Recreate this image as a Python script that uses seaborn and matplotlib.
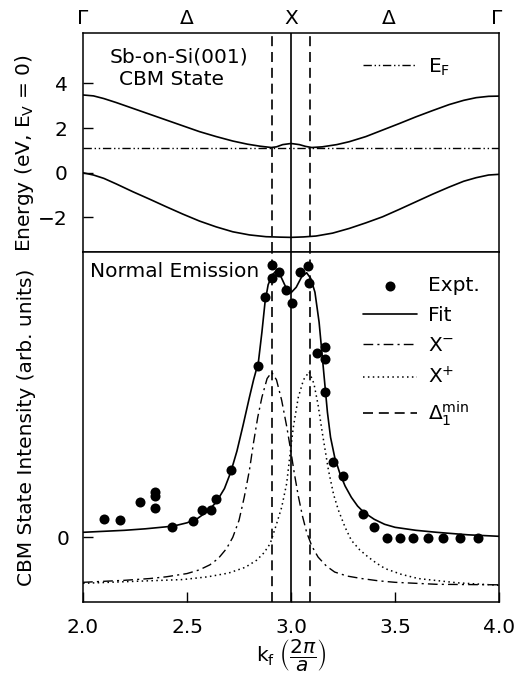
import matplotlib
matplotlib.use("Agg")
import matplotlib.pyplot as plt
import seaborn as sns

# ---------------- data ----------------
# top panel: band structure along Gamma - X - Gamma
band_k = [2.00, 2.05, 2.10, 2.16, 2.24, 2.32, 2.40, 2.48, 2.56, 2.64, 2.72, 2.79, 2.85,
          2.905, 2.93, 2.96, 3.00, 3.04, 3.07, 3.10, 3.15, 3.22, 3.28, 3.36, 3.44, 3.52,
          3.60, 3.68, 3.76, 3.83, 3.89, 3.95, 4.00]
cbm_band = [3.48, 3.44, 3.32, 3.14, 2.88, 2.62, 2.36, 2.10, 1.84, 1.62, 1.42, 1.28, 1.19,
            1.13, 1.16, 1.26, 1.31, 1.26, 1.18, 1.13, 1.16, 1.26, 1.39, 1.62, 1.91, 2.20,
            2.50, 2.78, 3.05, 3.24, 3.36, 3.42, 3.43]
vb_k = [2.00, 2.05, 2.10, 2.16, 2.24, 2.32, 2.40, 2.48, 2.56, 2.64, 2.72, 2.80, 2.88,
        2.95, 3.00, 3.06, 3.12, 3.20, 3.28, 3.36, 3.44, 3.52, 3.60, 3.68, 3.76, 3.83,
        3.89, 3.95, 4.00]
vb_band = [0.00, -0.10, -0.25, -0.50, -0.85, -1.18, -1.52, -1.85, -2.16, -2.42, -2.64,
           -2.78, -2.86, -2.88, -2.89, -2.87, -2.83, -2.70, -2.49, -2.24, -1.97, -1.64,
           -1.30, -0.96, -0.64, -0.38, -0.22, -0.10, -0.07]
ef_k = [2.0, 4.0]
ef_e = [1.12, 1.12]

# symmetry points (top axis labels)
sym_pos = [2.0, 2.5, 3.0, 3.47, 3.99]
sym_lab = ["Γ", "Δ", "X", "Δ", "Γ"]

# vertical markers
delta_min_k = [2.91, 3.09]
x_point_k = [3.0]

# bottom panel: experiment
expt_k = [2.10, 2.178, 2.272, 2.346, 2.346, 2.346, 2.430, 2.530, 2.572, 2.617, 2.638,
          2.710, 2.843, 2.875, 2.909, 2.909, 2.940, 2.976, 3.005, 3.043, 3.082, 3.087,
          3.125, 3.163, 3.163, 3.163, 3.203, 3.251, 3.348, 3.400, 3.462, 3.524, 3.588,
          3.658, 3.732, 3.810, 3.898]
expt_i = [0.072, 0.068, 0.142, 0.180, 0.166, 0.116, 0.041, 0.065, 0.111, 0.111, 0.154,
          0.268, 0.684, 0.960, 1.088, 1.036, 1.060, 0.988, 0.936, 1.060, 1.084, 1.016,
          0.736, 0.760, 0.712, 0.580, 0.302, 0.246, 0.092, 0.041, -0.002, -0.002, -0.002,
          -0.002, -0.002, -0.002, -0.002]

fit_k = [2.00, 2.10, 2.20, 2.30, 2.40, 2.45, 2.50, 2.55, 2.60, 2.64, 2.68, 2.71, 2.74,
         2.77, 2.80, 2.82, 2.843, 2.86, 2.875, 2.89, 2.91, 2.925, 2.95, 2.975, 3.00,
         3.025, 3.05, 3.075, 3.095, 3.115, 3.135, 3.155, 3.175, 3.19, 3.21, 3.235, 3.26,
         3.29, 3.32, 3.35, 3.40, 3.45, 3.50, 3.60, 3.70, 3.85, 4.00]
fit_i = [0.020, 0.024, 0.028, 0.034, 0.042, 0.048, 0.058, 0.075, 0.105, 0.140, 0.195,
         0.260, 0.345, 0.450, 0.560, 0.630, 0.700, 0.820, 0.940, 1.010, 1.050, 1.062,
         1.045, 1.000, 0.978, 1.000, 1.040, 1.058, 1.035, 0.980, 0.860, 0.680, 0.500,
         0.400, 0.320, 0.255, 0.205, 0.160, 0.125, 0.100, 0.072, 0.052, 0.040, 0.028,
         0.020, 0.010, 0.004]

xm_k = [2.00, 2.20, 2.32, 2.40, 2.50, 2.56, 2.61, 2.65, 2.69, 2.72, 2.75, 2.775, 2.80,
        2.82, 2.84, 2.86, 2.885, 2.907, 2.93, 2.955, 2.98, 3.00, 3.015, 3.035, 3.055,
        3.075, 3.10, 3.13, 3.17, 3.21, 3.27, 3.34, 3.42, 3.50, 3.70, 4.00]
xm_i = [-0.180, -0.172, -0.165, -0.158, -0.145, -0.130, -0.110, -0.085, -0.045, 0.000,
        0.068, 0.160, 0.268, 0.380, 0.480, 0.560, 0.635, 0.660, 0.630, 0.548, 0.440,
        0.340, 0.260, 0.165, 0.085, 0.020, -0.035, -0.079, -0.115, -0.139, -0.155,
        -0.165, -0.174, -0.180, -0.188, -0.190]

xp_k = [2.00, 2.25, 2.48, 2.60, 2.70, 2.78, 2.834, 2.87, 2.90, 2.931, 2.955, 2.979,
        2.995, 3.011, 3.035, 3.06, 3.087, 3.11, 3.13, 3.15, 3.18, 3.205, 3.228, 3.26,
        3.29, 3.33, 3.371, 3.41, 3.452, 3.53, 3.612, 3.80, 4.00]
xp_i = [-0.184, -0.176, -0.169, -0.158, -0.143, -0.120, -0.092, -0.062, -0.025, 0.055,
        0.120, 0.215, 0.330, 0.440, 0.560, 0.630, 0.662, 0.615, 0.530, 0.420, 0.268,
        0.170, 0.108, 0.040, -0.012, -0.050, -0.079, -0.103, -0.125, -0.148, -0.165,
        -0.182, -0.192]

x_ticks = [2.0, 2.5, 3.0, 3.5, 4.0]
x_ticklabels = ["2.0", "2.5", "3.0", "3.5", "4.0"]
e_ticks = [-2, 0, 2, 4]
i_ticks = [0]

# ---------------- style ----------------
sns.set_theme(style="ticks")
plt.rcParams["font.family"] = ["DejaVu Sans"]
plt.rcParams["mathtext.fontset"] = "dejavusans"
plt.rcParams["axes.linewidth"] = 1.1
for key in ("text.color", "axes.labelcolor", "xtick.color", "ytick.color",
            "axes.edgecolor"):
    plt.rcParams[key] = "black"
fs = 14.5

fig = plt.figure(figsize=(5.16, 6.92), dpi=100)
ax1 = fig.add_axes([0.1609, 0.6363, 0.8062, 0.3156])
ax2 = fig.add_axes([0.1609, 0.1296, 0.8062, 0.5066])

lw = 1.2
dash_dd = (0, (6, 2, 1, 2, 1, 2))
dash_d = (0, (7, 3, 1.5, 3))
dotted = (0, (1, 2.2))
dashed = (0, (6, 3.5))

# ---------------- top panel ----------------
sns.lineplot(x=band_k, y=cbm_band, ax=ax1, color="black", lw=lw, sort=False)
sns.lineplot(x=vb_k, y=vb_band, ax=ax1, color="black", lw=lw, sort=False)
sns.lineplot(x=ef_k, y=ef_e, ax=ax1, color="black", lw=1.0, linestyle=dash_dd,
             label=r"E$_\mathregular{F}$")
for k in delta_min_k:
    ax1.axvline(k, color="black", lw=lw, linestyle=dashed)
for k in x_point_k:
    ax1.axvline(k, color="black", lw=lw)

ax1.set_xlim(2.0, 4.0)
ax1.set_ylim(-3.53, 6.24)
ax1.set_yticks(e_ticks)
ax1.set_yticklabels([str(t).replace("-", "\u2212") for t in e_ticks])
ax1.tick_params(axis="y", direction="in", length=7, width=1.0, pad=11, labelsize=fs,
                left=True, right=False)
ax1.set_xticks(sym_pos)
ax1.set_xticklabels(sym_lab)
ax1.tick_params(axis="x", bottom=False, labelbottom=False, top=True, labeltop=True,
                length=0, pad=4, labelsize=fs)
ax1.set_ylabel(r"Energy (eV, E$_\mathregular{V}$ = 0)", fontsize=fs)
ax1.yaxis.set_label_coords(-0.112, 0.45)
ax1.text(0.231, 0.89, "Sb-on-Si(001)", transform=ax1.transAxes, ha="center",
         va="center", fontsize=fs)
ax1.text(0.212, 0.79, "CBM State", transform=ax1.transAxes, ha="center",
         va="center", fontsize=fs)
ax1.legend(loc="upper left", bbox_to_anchor=(0.673, 0.895), frameon=False,
           fontsize=fs, handlelength=2.7, handletextpad=0.55, borderpad=0,
           borderaxespad=0)

# ---------------- bottom panel ----------------
sns.lineplot(x=fit_k, y=fit_i, ax=ax2, color="black", lw=lw, sort=False, label="Fit")
sns.lineplot(x=xm_k, y=xm_i, ax=ax2, color="black", lw=1.0, sort=False,
             linestyle=dash_d, label=r"X$^{-}$")
sns.lineplot(x=xp_k, y=xp_i, ax=ax2, color="black", lw=1.1, sort=False,
             linestyle=dotted, label=r"X$^{+}$")
sns.scatterplot(x=expt_k, y=expt_i, ax=ax2, color="black", s=52, linewidth=0,
                label="Expt.", zorder=5)
for i, k in enumerate(delta_min_k):
    ax2.axvline(k, color="black", lw=lw, linestyle=dashed,
                label=r"$\Delta_1^{\mathregular{min}}$" if i == 0 else None)
for k in x_point_k:
    ax2.axvline(k, color="black", lw=lw)

ax2.set_xlim(2.0, 4.0)
ax2.set_ylim(-0.26, 1.142)
ax2.set_xticks(x_ticks)
ax2.set_xticklabels(x_ticklabels)
ax2.set_yticks(i_ticks)
ax2.set_yticklabels(["0"])
ax2.tick_params(axis="x", direction="in", length=7, width=1.0, pad=11, labelsize=fs,
                top=False)
ax2.tick_params(axis="y", direction="in", length=7, width=1.0, pad=10, labelsize=fs,
                right=False)
ax2.set_xlabel(r"k$_\mathregular{f}$ $\left(\dfrac{2\pi}{a}\right)$", fontsize=fs,
               labelpad=0)
ax2.set_ylabel("CBM State Intensity (arb. units)", fontsize=fs)
ax2.yaxis.set_label_coords(-0.112, 0.5)
ax2.text(0.017, 0.943, "Normal Emission", transform=ax2.transAxes, ha="left",
         va="center", fontsize=fs)

handles, labels = ax2.get_legend_handles_labels()
hmap = dict(zip(labels, handles))
order = ["Expt.", "Fit", r"X$^{-}$", r"X$^{+}$", r"$\Delta_1^{\mathregular{min}}$"]
ax2.legend([hmap[o] for o in order], order, loc="upper left",
           bbox_to_anchor=(0.673, 0.93), frameon=False, fontsize=fs,
           handlelength=2.7, handletextpad=0.55, borderpad=0, borderaxespad=0,
           labelspacing=0.55)

fig.savefig("out.png", dpi=100)
